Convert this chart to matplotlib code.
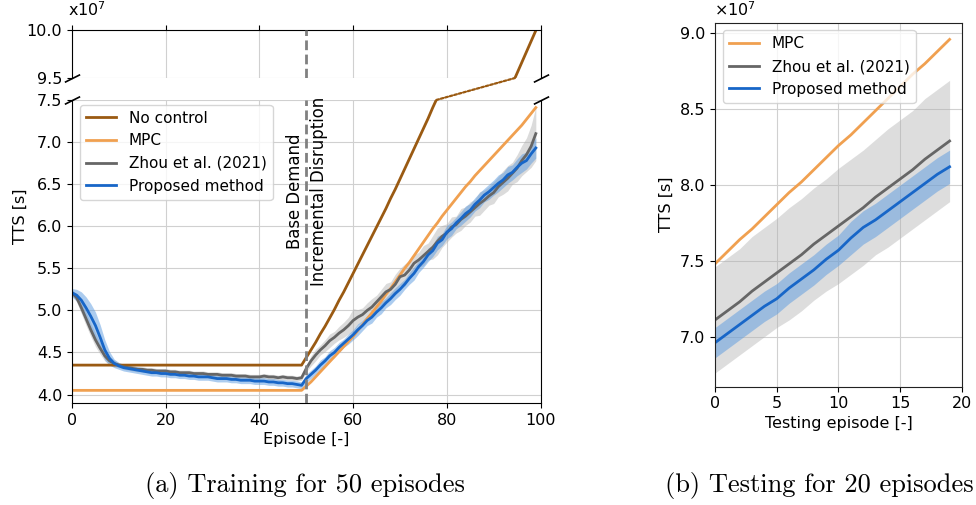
import matplotlib
matplotlib.use("Agg")
import matplotlib.pyplot as plt
from matplotlib.patches import ConnectionPatch
import numpy as np

# ---------------- data (units of 1e7 s) ----------------
train_episodes = list(range(100))

no_control = [4.35] * 50 + [
    4.44, 4.53, 4.62, 4.72, 4.81, 4.91, 5.01, 5.12, 5.22, 5.33,
    5.44, 5.55, 5.66, 5.77, 5.88, 5.99, 6.10, 6.21, 6.33, 6.44,
    6.56, 6.68, 6.80, 6.92, 7.04, 7.16, 7.28, 7.41, 7.53, 7.65,
    7.77, 7.89, 8.01, 8.13, 8.25, 8.36, 8.48, 8.60, 8.72, 8.84,
    8.96, 9.08, 9.20, 9.32, 9.44, 9.55, 9.66, 9.77, 9.88, 9.99]

mpc_train = [4.05] * 50 + [
    4.10, 4.15, 4.21, 4.27, 4.33, 4.39, 4.45, 4.51, 4.57, 4.63,
    4.69, 4.76, 4.83, 4.90, 4.97, 5.04, 5.11, 5.19, 5.26, 5.34,
    5.42, 5.50, 5.57, 5.65, 5.73, 5.81, 5.89, 5.97, 6.04, 6.12,
    6.19, 6.26, 6.33, 6.40, 6.47, 6.53, 6.60, 6.66, 6.72, 6.78,
    6.84, 6.90, 6.96, 7.02, 7.08, 7.14, 7.20, 7.27, 7.34, 7.41]

zhou_train = [
    5.21, 5.15, 5.03, 4.90, 4.77, 4.65, 4.55, 4.46, 4.40, 4.37,
    4.35, 4.33, 4.32, 4.31, 4.30, 4.30, 4.29, 4.29, 4.28, 4.28,
    4.28, 4.27, 4.27, 4.26, 4.26, 4.26, 4.25, 4.25, 4.25, 4.24,
    4.24, 4.24, 4.23, 4.23, 4.23, 4.22, 4.22, 4.22, 4.21, 4.21,
    4.21, 4.22, 4.21, 4.21, 4.20, 4.21, 4.20, 4.20, 4.19, 4.20,
    4.31, 4.40, 4.47, 4.53, 4.58, 4.64, 4.68, 4.73, 4.77, 4.82,
    4.88, 4.92, 4.95, 5.00, 5.04, 5.10, 5.16, 5.22, 5.25, 5.31,
    5.40, 5.42, 5.48, 5.56, 5.60, 5.65, 5.70, 5.75, 5.82, 5.88,
    5.92, 5.99, 6.02, 6.08, 6.12, 6.17, 6.22, 6.27, 6.31, 6.36,
    6.40, 6.47, 6.52, 6.57, 6.63, 6.69, 6.78, 6.85, 6.95, 7.10]

zhou_train_std = [
    0.03, 0.05, 0.07, 0.08, 0.08, 0.08, 0.07, 0.06, 0.05, 0.04,
    0.03, 0.03, 0.03, 0.03, 0.03, 0.03, 0.03, 0.03, 0.03, 0.03,
    0.03, 0.03, 0.03, 0.03, 0.03, 0.03, 0.03, 0.03, 0.03, 0.03,
    0.03, 0.03, 0.03, 0.03, 0.03, 0.03, 0.03, 0.03, 0.03, 0.03,
    0.03, 0.03, 0.03, 0.03, 0.03, 0.03, 0.03, 0.03, 0.03, 0.03,
    0.04, 0.06, 0.07, 0.06, 0.07, 0.08, 0.07, 0.08, 0.09, 0.10,
    0.14, 0.09, 0.08, 0.09, 0.10, 0.08, 0.09, 0.10, 0.09, 0.12,
    0.10, 0.13, 0.11, 0.10, 0.09, 0.12, 0.10, 0.14, 0.16, 0.13,
    0.11, 0.12, 0.10, 0.13, 0.11, 0.12, 0.10, 0.14, 0.12, 0.11,
    0.13, 0.12, 0.14, 0.15, 0.13, 0.16, 0.18, 0.20, 0.25, 0.32]

prop_train = [
    5.21, 5.18, 5.12, 5.03, 4.93, 4.82, 4.68, 4.53, 4.43, 4.37,
    4.34, 4.32, 4.31, 4.30, 4.29, 4.28, 4.27, 4.26, 4.26, 4.25,
    4.25, 4.24, 4.24, 4.23, 4.23, 4.22, 4.22, 4.21, 4.21, 4.21,
    4.20, 4.19, 4.19, 4.19, 4.18, 4.18, 4.17, 4.17, 4.17, 4.16,
    4.16, 4.16, 4.15, 4.15, 4.14, 4.14, 4.13, 4.13, 4.12, 4.11,
    4.19, 4.24, 4.29, 4.35, 4.40, 4.46, 4.50, 4.56, 4.61, 4.66,
    4.71, 4.77, 4.82, 4.88, 4.92, 4.98, 5.03, 5.09, 5.14, 5.20,
    5.25, 5.31, 5.38, 5.44, 5.52, 5.58, 5.66, 5.71, 5.80, 5.84,
    5.93, 5.97, 6.04, 6.09, 6.15, 6.19, 6.26, 6.31, 6.37, 6.41,
    6.46, 6.51, 6.55, 6.61, 6.64, 6.70, 6.75, 6.78, 6.86, 6.93]

prop_train_std = [
    0.05, 0.07, 0.10, 0.13, 0.15, 0.16, 0.15, 0.12, 0.08, 0.05,
    0.04, 0.04, 0.04, 0.04, 0.04, 0.04, 0.04, 0.04, 0.04, 0.04,
    0.04, 0.04, 0.04, 0.04, 0.04, 0.04, 0.04, 0.04, 0.04, 0.04,
    0.04, 0.04, 0.04, 0.04, 0.04, 0.04, 0.04, 0.04, 0.04, 0.04,
    0.04, 0.04, 0.04, 0.04, 0.04, 0.04, 0.04, 0.04, 0.04, 0.04,
    0.05, 0.05, 0.05, 0.06, 0.05, 0.06, 0.06, 0.06, 0.05, 0.06,
    0.06, 0.07, 0.06, 0.06, 0.07, 0.06, 0.07, 0.06, 0.07, 0.07,
    0.07, 0.06, 0.07, 0.08, 0.07, 0.07, 0.08, 0.07, 0.08, 0.07,
    0.08, 0.08, 0.07, 0.08, 0.09, 0.08, 0.08, 0.09, 0.08, 0.09,
    0.09, 0.10, 0.09, 0.10, 0.09, 0.10, 0.11, 0.10, 0.11, 0.12]

test_episodes = list(range(20))
mpc_test = [7.48, 7.56, 7.64, 7.71, 7.79, 7.87, 7.95, 8.02, 8.10, 8.18,
            8.26, 8.33, 8.41, 8.49, 8.57, 8.65, 8.73, 8.80, 8.88, 8.96]
zhou_test = [7.11, 7.17, 7.23, 7.30, 7.36, 7.42, 7.48, 7.54, 7.61, 7.67,
             7.73, 7.79, 7.85, 7.92, 7.98, 8.04, 8.10, 8.17, 8.23, 8.29]
zhou_test_std = [0.35, 0.35, 0.35, 0.36, 0.36, 0.36, 0.37, 0.37, 0.37, 0.37,
                 0.38, 0.38, 0.38, 0.38, 0.39, 0.39, 0.39, 0.40, 0.40, 0.40]
prop_test = [6.96, 7.02, 7.08, 7.14, 7.20, 7.25, 7.32, 7.38, 7.44, 7.51,
             7.57, 7.65, 7.72, 7.77, 7.83, 7.89, 7.95, 8.01, 8.07, 8.12]
prop_test_std = [0.10, 0.10, 0.10, 0.10, 0.10, 0.10, 0.10, 0.10, 0.10, 0.10,
                 0.10, 0.11, 0.11, 0.11, 0.11, 0.11, 0.11, 0.11, 0.11, 0.11]

labels = ["No control", "MPC", "Zhou et al. (2021)", "Proposed method"]

# ---------------- style ----------------
C_NC = "#9a5a12"
C_MPC = "#f0a050"
C_ZHOU = "#666666"
C_PROP = "#1766c8"
C_ZHOU_BAND = "#b0b0b0"
C_PROP_BAND = "#5b9be0"
LW = 2.0
FS = 11.5
LEG_FS = 11
GRID = dict(color="#d0d0d0", lw=0.8)

plt.rcParams["font.family"] = ["DejaVu Sans"]
plt.rcParams["font.size"] = FS

fig = plt.figure(figsize=(9.76, 5.05), dpi=100)
ax_top = fig.add_axes([0.0738, 0.8455, 0.480, 0.0960])
ax_bot = fig.add_axes([0.0738, 0.2020, 0.480, 0.6000])
ax_r = fig.add_axes([0.7326, 0.2343, 0.2530, 0.7207])

x = np.array(train_episodes)
zt = np.array(zhou_train); zs = np.array(zhou_train_std)
pt = np.array(prop_train); ps = np.array(prop_train_std)

for ax in (ax_top, ax_bot):
    ax.fill_between(x, zt - zs, zt + zs, color=C_ZHOU_BAND, alpha=0.45, lw=0)
    ax.fill_between(x, pt - ps, pt + ps, color=C_PROP_BAND, alpha=0.5, lw=0)
    ax.plot(x, no_control, color=C_NC, lw=LW, label=labels[0])
    ax.plot(x, mpc_train, color=C_MPC, lw=LW, label=labels[1])
    ax.plot(x, zhou_train, color=C_ZHOU, lw=LW, label=labels[2])
    ax.plot(x, prop_train, color=C_PROP, lw=LW, label=labels[3])
    ax.axvline(50, color="#808080", ls=(0, (3.5, 1.6)), lw=2.0, zorder=3)
    ax.set_xlim(0, 100)
    ax.grid(True, **GRID)
    ax.set_axisbelow(True)
    ax.tick_params(labelsize=FS)

ax_top.set_ylim(9.5, 10.0)
ax_top.set_yticks([9.5, 10.0])
ax_top.set_yticklabels(["9.5", "10.0"])
ax_top.spines["bottom"].set_visible(False)
ax_top.xaxis.tick_top()
ax_top.tick_params(labeltop=False)
ax_top.set_xticks([0, 20, 40, 60, 80, 100])

ax_bot.set_ylim(3.9, 7.5)
ax_bot.set_yticks([4.0, 4.5, 5.0, 5.5, 6.0, 6.5, 7.0, 7.5])
ax_bot.set_yticklabels(["4.0", "4.5", "5.0", "5.5", "6.0", "6.5", "7.0", "7.5"])
ax_bot.set_xticks([0, 20, 40, 60, 80, 100])
ax_bot.spines["top"].set_visible(False)
ax_bot.set_xlabel("Episode [-]", fontsize=FS, labelpad=3)
ax_bot.set_ylabel("TTS [s]", fontsize=FS)
ax_bot.yaxis.set_label_coords(-0.095, 0.617)

# break marks
kw = dict(marker=[(-1, -0.5), (1, 0.5)], markersize=11, linestyle="none",
          color="k", mec="k", mew=1.2, clip_on=False)
ax_top.plot([0, 1], [0, 0], transform=ax_top.transAxes, **kw)
ax_bot.plot([0, 1], [1, 1], transform=ax_bot.transAxes, **kw)

# dotted connection of the no-control curve across the break
nc = np.array(no_control)
x_exit = float(np.interp(7.5, nc[50:], x[50:]))
x_enter = float(np.interp(9.5, nc[50:], x[50:]))
con = ConnectionPatch(xyA=(x_exit, 7.5), coordsA=ax_bot.transData,
                      xyB=(x_enter, 9.5), coordsB=ax_top.transData,
                      color=C_NC, lw=1.6, ls=(0, (1.2, 0.9)))
fig.add_artist(con)

ax_bot.text(49.5, 6.42, "Base Demand", rotation=90, ha="right", va="center", fontsize=11.9)
ax_bot.text(50.9, 6.42, "Incremental Disruption", rotation=90, ha="left", va="center", fontsize=11.9)

ax_bot.legend(loc="upper left", fontsize=LEG_FS, bbox_to_anchor=(0.0, 1.01),
              framealpha=0.8, handlelength=2.0)

fig.text(0.070, 0.963, r"x$\mathdefault{10^{7}}$", fontsize=FS, ha="left", va="bottom")

# ---------------- right panel ----------------
xt = np.array(test_episodes)
zt2 = np.array(zhou_test); zs2 = np.array(zhou_test_std)
pt2 = np.array(prop_test); ps2 = np.array(prop_test_std)
ax_r.fill_between(xt, zt2 - zs2, zt2 + zs2, color=C_ZHOU_BAND, alpha=0.42, lw=0)
ax_r.fill_between(xt, pt2 - ps2, pt2 + ps2, color=C_PROP_BAND, alpha=0.5, lw=0)
ax_r.plot(xt, mpc_test, color=C_MPC, lw=LW, label=labels[1])
ax_r.plot(xt, zhou_test, color=C_ZHOU, lw=LW, label=labels[2])
ax_r.plot(xt, prop_test, color=C_PROP, lw=LW, label=labels[3])
ax_r.set_xlim(0, 20)
ax_r.set_ylim(6.67, 9.07)
ax_r.set_xticks([0, 5, 10, 15, 20])
ax_r.set_yticks([7.0, 7.5, 8.0, 8.5, 9.0])
ax_r.set_yticklabels(["7.0", "7.5", "8.0", "8.5", "9.0"])
ax_r.grid(True, **GRID)
ax_r.set_axisbelow(True)
ax_r.tick_params(labelsize=FS)
for s in ax_r.spines.values():
    s.set_color("#222222")
ax_r.set_xlabel("Testing episode [-]", fontsize=FS, labelpad=3)
ax_r.set_ylabel("TTS [s]", fontsize=FS)
ax_r.legend(loc="upper left", fontsize=LEG_FS, framealpha=0.8, handlelength=2.0)
fig.text(0.732, 0.962, r"$\times\mathdefault{10^{7}}$", fontsize=FS, ha="left", va="bottom")

# ---------------- captions ----------------
fig.text(0.3125, 0.026, "(a) Training for 50 episodes", family="cmr10",
         fontsize=19, ha="center", va="baseline")
fig.text(0.839, 0.026, "(b) Testing for 20 episodes", family="cmr10",
         fontsize=19, ha="center", va="baseline")

fig.savefig("out.png", dpi=100)
